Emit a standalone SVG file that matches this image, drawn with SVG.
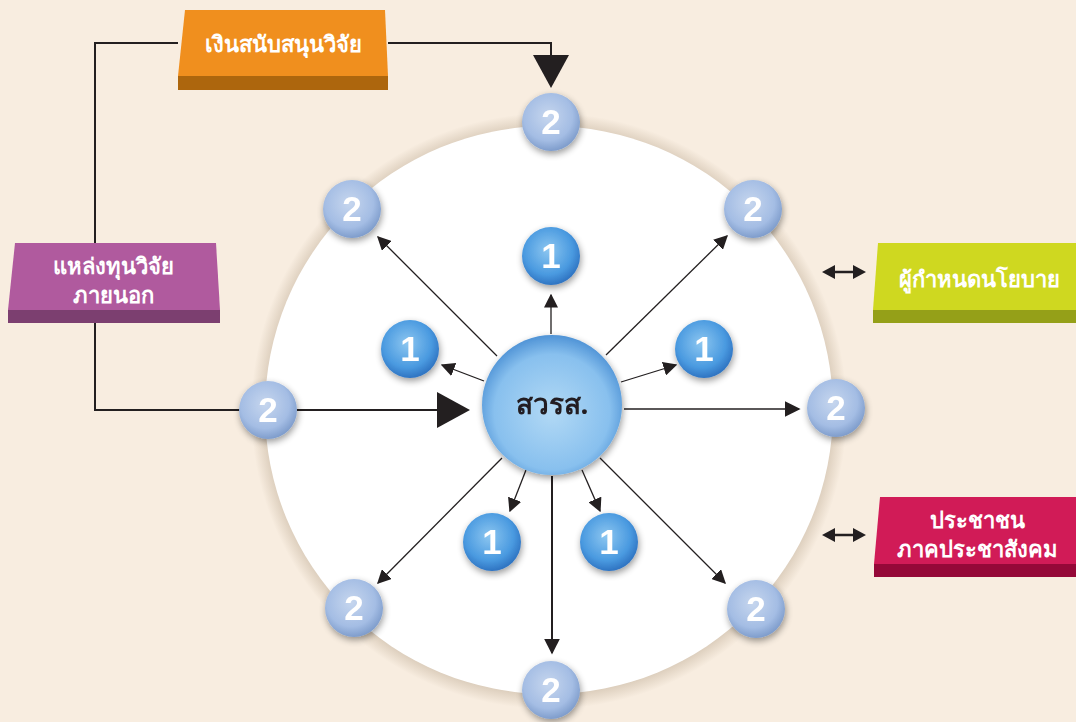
<svg xmlns="http://www.w3.org/2000/svg" width="1076" height="722" viewBox="0 0 1076 722">
<style>
.thai{font-family:"Noto Sans","DejaVu Sans",sans-serif;font-weight:bold;fill:#fff;text-anchor:middle}
.num{font-family:"Liberation Sans",Arial,sans-serif;font-weight:bold;fill:#fff;text-anchor:middle;font-size:35px}
.ln{stroke:#231f20;stroke-width:1.3;fill:none}
.thick{stroke:#231f20;stroke-width:2;fill:none}
</style>
<defs>
<radialGradient id="gWhite" cx="0.5" cy="0.5" r="0.5">
<stop offset="0.92" stop-color="#cdbda9"/>
<stop offset="1" stop-color="#f8ede0"/>
</radialGradient>
<radialGradient id="g2" cx="0.45" cy="0.4" r="0.6">
<stop offset="0" stop-color="#c6d6ee"/>
<stop offset="0.7" stop-color="#a4bde4"/>
<stop offset="1" stop-color="#7f9dcc"/>
</radialGradient>
<radialGradient id="g1" cx="0.45" cy="0.4" r="0.6">
<stop offset="0" stop-color="#8cc6f0"/>
<stop offset="0.7" stop-color="#4a9ae0"/>
<stop offset="1" stop-color="#2f74c2"/>
</radialGradient>
<radialGradient id="gC" cx="0.5" cy="0.55" r="0.55">
<stop offset="0" stop-color="#b2d9f5"/>
<stop offset="0.75" stop-color="#88c0ee"/>
<stop offset="1" stop-color="#4f93d6"/>
</radialGradient>
<filter id="sh" x="-30%" y="-30%" width="160%" height="160%">
<feGaussianBlur in="SourceAlpha" stdDeviation="3.5"/>
<feOffset dx="1" dy="3"/>
<feComponentTransfer><feFuncA type="linear" slope="0.4"/></feComponentTransfer>
<feMerge><feMergeNode/><feMergeNode in="SourceGraphic"/></feMerge>
</filter>
<marker id="ah" viewBox="0 0 10 10" refX="9" refY="5" markerWidth="14" markerHeight="14" markerUnits="userSpaceOnUse" orient="auto">
<path d="M0,0 L10,5 L0,10 z" fill="#231f20"/>
</marker>
<marker id="ahb" viewBox="0 0 10 10" refX="9" refY="5" markerWidth="16" markerHeight="16" markerUnits="userSpaceOnUse" orient="auto">
<path d="M0,0 L10,5 L0,10 z" fill="#231f20"/>
</marker>
</defs>
<rect width="1076" height="722" fill="#f8ede0"/>
<circle cx="549" cy="411" r="298" fill="url(#gWhite)"/>
<circle cx="549" cy="410" r="284" fill="#ffffff"/>

<g id="connectors">
<polyline class="thick" points="178,43 95,43 95,243"/>
<polyline class="thick" points="95,323 95,410 240,410"/>
<polyline class="thick" points="388,43 551,43 551,58"/>
<path d="M533,55 L569,55 L551,88 z" fill="#231f20"/>
<line class="thick" x1="297" y1="410" x2="440" y2="410"/>
<path d="M437,392 L470,410 L437,428 z" fill="#231f20"/>
<line class="ln" x1="497" y1="356" x2="378" y2="237" marker-end="url(#ah)"/>
<line class="ln" x1="551" y1="334" x2="551" y2="295" marker-end="url(#ah)"/>
<line class="ln" x1="606" y1="355" x2="727" y2="236" marker-end="url(#ah)"/>
<line class="ln" x1="484" y1="381" x2="442" y2="365" marker-end="url(#ah)"/>
<line class="ln" x1="621" y1="382" x2="676" y2="365" marker-end="url(#ah)"/>
<line class="ln" x1="624" y1="409" x2="799" y2="409" marker-end="url(#ahb)"/>
<line class="ln" x1="502" y1="458" x2="378" y2="583" marker-end="url(#ah)"/>
<line class="ln" x1="526" y1="470" x2="510" y2="511" marker-end="url(#ah)"/>
<line class="ln" x1="582" y1="470" x2="600" y2="511" marker-end="url(#ah)"/>
<line class="ln" x1="600" y1="458" x2="725" y2="583" marker-end="url(#ah)"/>
<line class="thick" x1="552" y1="476" x2="552" y2="653" marker-end="url(#ahb)"/>
<g fill="#231f20">
<path d="M822,272 L835,265 L835,279 z M866,272 L853,265 L853,279 z"/>
<line x1="832" y1="272" x2="856" y2="272" stroke="#231f20" stroke-width="2.5"/>
<path d="M822,535 L835,528 L835,542 z M866,535 L853,528 L853,542 z"/>
<line x1="832" y1="535" x2="856" y2="535" stroke="#231f20" stroke-width="2.5"/>
</g>
</g>

<g id="box-funding">
<path d="M178,76 L388,76 L388,90 L178,90 z" fill="#ad660d"/>
<path d="M185,10 L385,10 L388,76 L178,76 z" fill="#f08f1e"/>
<text class="thai" x="283" y="52" font-size="22">เงินสนับสนุนวิจัย</text>
</g>
<g id="box-external">
<path d="M8,310 L220,310 L220,323 L8,323 z" fill="#7c3f70"/>
<path d="M15,243 L216,243 L220,310 L8,310 z" fill="#b05a9e"/>
<text class="thai" x="113" y="274" font-size="22">แหล่งทุนวิจัย</text>
<text class="thai" x="113" y="303" font-size="22">ภายนอก</text>
</g>
<g id="box-policy">
<path d="M873,310 L1076,310 L1076,323 L873,323 z" fill="#95a018"/>
<path d="M878,243 L1076,243 L1076,310 L873,310 z" fill="#cfd820"/>
<text class="thai" x="979" y="287" font-size="22">ผู้กำหนดนโยบาย</text>
</g>
<g id="box-public">
<path d="M874,564 L1076,564 L1076,577 L874,577 z" fill="#950838"/>
<path d="M880,497 L1076,497 L1076,564 L874,564 z" fill="#d11b57"/>
<text class="thai" x="977" y="528" font-size="22">ประชาชน</text>
<text class="thai" x="977" y="557" font-size="22">ภาคประชาสังคม</text>
</g>

<g id="center" filter="url(#sh)">
<circle cx="552" cy="405" r="70" fill="url(#gC)"/>
<text x="552" y="414" font-family="'Noto Sans','DejaVu Sans',sans-serif" font-weight="bold" font-size="28" fill="#231f20" text-anchor="middle">สวรส.</text>
</g>

<g id="n1-top" filter="url(#sh)"><circle cx="551" cy="256" r="29" fill="url(#g1)"/><text class="num" x="551" y="268">1</text></g>
<g id="n1-left" filter="url(#sh)"><circle cx="410" cy="349" r="29" fill="url(#g1)"/><text class="num" x="410" y="361">1</text></g>
<g id="n1-right" filter="url(#sh)"><circle cx="704" cy="349" r="29" fill="url(#g1)"/><text class="num" x="704" y="361">1</text></g>
<g id="n1-lowleft" filter="url(#sh)"><circle cx="492" cy="542" r="29" fill="url(#g1)"/><text class="num" x="492" y="554">1</text></g>
<g id="n1-lowright" filter="url(#sh)"><circle cx="609" cy="542" r="29" fill="url(#g1)"/><text class="num" x="609" y="554">1</text></g>

<g id="n2-top" filter="url(#sh)"><circle cx="551" cy="122" r="29" fill="url(#g2)"/><text class="num" x="551" y="134">2</text></g>
<g id="n2-upleft" filter="url(#sh)"><circle cx="352" cy="209" r="29" fill="url(#g2)"/><text class="num" x="352" y="221">2</text></g>
<g id="n2-upright" filter="url(#sh)"><circle cx="753" cy="209" r="29" fill="url(#g2)"/><text class="num" x="753" y="221">2</text></g>
<g id="n2-left" filter="url(#sh)"><circle cx="268" cy="410" r="29" fill="url(#g2)"/><text class="num" x="268" y="422">2</text></g>
<g id="n2-right" filter="url(#sh)"><circle cx="836" cy="408" r="29" fill="url(#g2)"/><text class="num" x="836" y="420">2</text></g>
<g id="n2-lowleft" filter="url(#sh)"><circle cx="354" cy="608" r="29" fill="url(#g2)"/><text class="num" x="354" y="620">2</text></g>
<g id="n2-lowright" filter="url(#sh)"><circle cx="756" cy="609" r="29" fill="url(#g2)"/><text class="num" x="756" y="621">2</text></g>
<g id="n2-bottom" filter="url(#sh)"><circle cx="551" cy="690" r="29" fill="url(#g2)"/><text class="num" x="551" y="702">2</text></g>
</svg>
